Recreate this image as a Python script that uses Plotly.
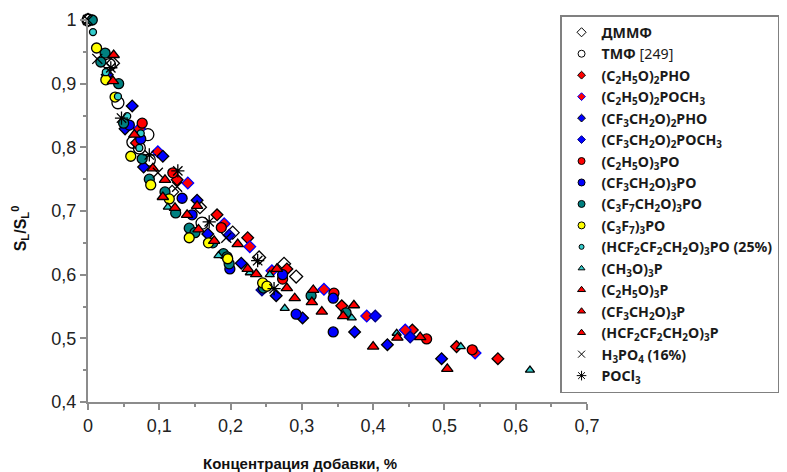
import plotly.graph_objects as go

# --- data: relative burning velocity vs additive concentration ---
dmmf_x = [0.0, 0.035, 0.118, 0.157, 0.203, 0.240, 0.275, 0.292]
dmmf_y = [1.0, 0.932, 0.730, 0.706, 0.666, 0.627, 0.617, 0.597]

tmf_x = [0.0, 0.030, 0.042, 0.063, 0.084, 0.072, 0.086, 0.160]
tmf_y = [1.0, 0.930, 0.870, 0.808, 0.820, 0.799, 0.780, 0.681]

dep_pho_x = [0.068, 0.125, 0.181, 0.224, 0.279, 0.356, 0.455, 0.517, 0.575]
dep_pho_y = [0.807, 0.749, 0.694, 0.658, 0.609, 0.551, 0.513, 0.487, 0.468]

dep_poch3_x = [0.072, 0.098, 0.140, 0.191, 0.227, 0.258, 0.331, 0.391, 0.445, 0.543]
dep_poch3_y = [0.829, 0.793, 0.744, 0.680, 0.644, 0.606, 0.577, 0.535, 0.513, 0.477]

tfe_pho_x = [0.027, 0.062, 0.052, 0.105, 0.078, 0.153, 0.168, 0.215, 0.264, 0.301, 0.374, 0.420, 0.496]
tfe_pho_y = [0.914, 0.865, 0.829, 0.786, 0.769, 0.717, 0.664, 0.618, 0.567, 0.532, 0.510, 0.490, 0.468]

tfe_poch3_x = [0.198, 0.244, 0.403, 0.452]
tfe_poch3_y = [0.662, 0.576, 0.535, 0.502]

tep_x = [0.076, 0.119, 0.187, 0.273, 0.345, 0.475, 0.539]
tep_y = [0.838, 0.760, 0.674, 0.593, 0.571, 0.499, 0.482]

tfep_x = [0.058, 0.074, 0.132, 0.146, 0.199, 0.273, 0.292, 0.344, 0.344]
tfep_y = [0.835, 0.813, 0.720, 0.694, 0.609, 0.600, 0.538, 0.563, 0.510]

hfbp_x = [0.006, 0.024, 0.018, 0.043, 0.050, 0.076, 0.086, 0.108, 0.123, 0.142, 0.150,
          0.175, 0.190, 0.195, 0.198, 0.246, 0.313, 0.362]
hfbp_y = [1.0, 0.948, 0.934, 0.900, 0.838, 0.782, 0.750, 0.730, 0.697, 0.673, 0.666,
          0.650, 0.633, 0.628, 0.617, 0.579, 0.567, 0.540]

pfpp_x = [0.012, 0.025, 0.038, 0.060, 0.088, 0.114, 0.142, 0.169, 0.196, 0.245, 0.251]
pfpp_y = [0.956, 0.906, 0.879, 0.786, 0.741, 0.719, 0.658, 0.650, 0.625, 0.587, 0.582]

tftfpo_x = [0.007, 0.025, 0.042, 0.055, 0.074, 0.072]
tftfpo_y = [0.981, 0.918, 0.880, 0.849, 0.822, 0.799]

tmp_x = [0.112, 0.183, 0.227, 0.255, 0.276, 0.370, 0.433, 0.523, 0.620]
tmp_y = [0.706, 0.630, 0.603, 0.600, 0.547, 0.532, 0.508, 0.487, 0.450]

tept_x = [0.036, 0.065, 0.108, 0.139, 0.177, 0.224, 0.279, 0.316, 0.373, 0.434, 0.504]
tept_y = [0.945, 0.820, 0.749, 0.694, 0.653, 0.609, 0.579, 0.576, 0.552, 0.501, 0.452]

tfept_x = [0.035, 0.091, 0.122, 0.155, 0.210, 0.265, 0.290, 0.314, 0.358, 0.466]
tfept_y = [0.904, 0.767, 0.705, 0.671, 0.648, 0.609, 0.563, 0.557, 0.535, 0.502]

tftfp_x = [0.105, 0.153, 0.236, 0.328, 0.400]
tftfp_y = [0.722, 0.708, 0.601, 0.542, 0.487]

h3po4_x = [0.0, 0.013, 0.098, 0.125, 0.194]
h3po4_y = [1.0, 0.939, 0.760, 0.738, 0.658]

pocl3_x = [0.032, 0.047, 0.086, 0.126, 0.170, 0.238, 0.261]
pocl3_y = [0.925, 0.846, 0.788, 0.763, 0.683, 0.622, 0.578]

# --- styling of each series: name, data, symbol, size on plot, size in legend, fill, edge ---
RED, BLUE, TEAL, YELLOW, CYAN = "#ff0000", "#0000ff", "#008080", "#ffff00", "#33cccc"
LW = 1.3

series = [
    ("ДММФ", dmmf_x, dmmf_y, "diamond", 10, 7, "white", "black", LW),
    ("ТМФ <span style='font-weight:normal'>[249]</span>", tmf_x, tmf_y, "circle", 12, 7,
     "rgba(255,255,255,0)", "black", LW),
    ("(C<sub>2</sub>H<sub>5</sub>O)<sub>2</sub>PHO", dep_pho_x, dep_pho_y, "diamond", 9, 6, RED, "black", LW),
    ("(C<sub>2</sub>H<sub>5</sub>O)<sub>2</sub>POCH<sub>3</sub>", dep_poch3_x, dep_poch3_y, "diamond", 9, 6, RED, BLUE, LW),
    ("(CF<sub>3</sub>CH<sub>2</sub>O)<sub>2</sub>PHO", tfe_pho_x, tfe_pho_y, "diamond", 9, 6, BLUE, "black", LW),
    ("(CF<sub>3</sub>CH<sub>2</sub>O)<sub>2</sub>POCH<sub>3</sub>", tfe_poch3_x, tfe_poch3_y, "diamond", 9, 6, BLUE, "#000080", LW),
    ("(C<sub>2</sub>H<sub>5</sub>O)<sub>3</sub>PO", tep_x, tep_y, "circle", 10, 7, RED, "black", LW),
    ("(CF<sub>3</sub>CH<sub>2</sub>O)<sub>3</sub>PO", tfep_x, tfep_y, "circle", 10, 7, BLUE, "black", LW),
    ("(C<sub>3</sub>F<sub>7</sub>CH<sub>2</sub>O)<sub>3</sub>PO", hfbp_x, hfbp_y, "circle", 10, 7, TEAL, "black", LW),
    ("(C<sub>3</sub>F<sub>7</sub>)<sub>3</sub>PO", pfpp_x, pfpp_y, "circle", 10, 7, YELLOW, "black", LW),
    ("(HCF<sub>2</sub>CF<sub>2</sub>CH<sub>2</sub>O)<sub>3</sub>PO (25%)", tftfpo_x, tftfpo_y, "circle", 7, 5, CYAN, "black", LW),
    ("(CH<sub>3</sub>O)<sub>3</sub>P", tmp_x, tmp_y, "triangle-up", 8, 6, CYAN, "black", LW),
    ("(C<sub>2</sub>H<sub>5</sub>O)<sub>3</sub>P", tept_x, tept_y, "triangle-up", 10, 7, RED, "black", LW),
    ("(CF<sub>3</sub>CH<sub>2</sub>O)<sub>3</sub>P", tfept_x, tfept_y, "triangle-up", 10, 7, RED, "black", LW),
    ("(HCF<sub>2</sub>CF<sub>2</sub>CH<sub>2</sub>O)<sub>3</sub>P", tftfp_x, tftfp_y, "triangle-up", 10, 7, RED, "black", LW),
    ("H<sub>3</sub>PO<sub>4</sub> (16%)", h3po4_x, h3po4_y, "x-thin-open", 10, 7, "black", "black", LW),
    ("POCl<sub>3</sub>", pocl3_x, pocl3_y, "asterisk-open", 11, 8, "black", "black", LW),
]

fig = go.Figure()

for i, (name, xs, ys, sym, size, lsize, fill, edge, lw) in enumerate(series):
    group = f"s{i}"
    # the measured points
    fig.add_trace(go.Scatter(
        x=xs, y=ys, mode="markers", name=name, cliponaxis=False,
        legendgroup=group, showlegend=False,
        marker=dict(symbol=sym, size=size, color=fill, line=dict(color=edge, width=lw)),
    ))
    # legend key drawn with a smaller symbol
    fig.add_trace(go.Scatter(
        x=[None], y=[None], mode="markers", name=name,
        legendgroup=group, showlegend=True,
        marker=dict(symbol=sym, size=lsize, color=fill, line=dict(color=edge, width=1)),
    ))

AXIS_GREY = "#8c8c8c"
SANS = "Liberation Sans, Arial, sans-serif"
tick_font = dict(family=SANS, size=18, color="#222222")

# plot area spans 88..587 px horizontally and 20..402 px vertically
fig.update_layout(
    width=787, height=472,
    margin=dict(l=88, r=200, t=20, b=70, autoexpand=False),
    paper_bgcolor="white", plot_bgcolor="white",
    separators=", ",
    font=dict(family=SANS, color="#111111"),
    showlegend=True,
    legend=dict(
        x=0.946, y=1.013, xanchor="left", yanchor="top",
        maxheight=460, tracegroupgap=0,
        bgcolor="white", bordercolor="#808080", borderwidth=1.5,
        font=dict(family="Noto Sans, sans-serif", size=14.2, color="#1a1a1a", weight="bold"),
        itemclick=False, itemdoubleclick=False,
    ),
    xaxis=dict(
        range=[0, 0.7], dtick=0.1, tick0=0,
        showgrid=False, zeroline=False,
        showline=True, linecolor=AXIS_GREY, linewidth=2,
        ticks="outside", ticklen=6, tickwidth=1.5, tickcolor=AXIS_GREY,
        minor=dict(dtick=0.05, ticks="outside", ticklen=3, tickwidth=1.5, tickcolor=AXIS_GREY),
        tickfont=tick_font,
    ),
    yaxis=dict(
        range=[0.4, 1.0], dtick=0.1, tick0=0.4,
        showgrid=False, zeroline=False,
        showline=True, linecolor=AXIS_GREY, linewidth=2,
        ticks="outside", ticklen=6, tickwidth=1.5, tickcolor=AXIS_GREY,
        minor=dict(dtick=0.05, ticks="outside", ticklen=3, tickwidth=1.5, tickcolor=AXIS_GREY),
        tickfont=tick_font,
    ),
    annotations=[
        dict(text="<b>Концентрация добавки, %</b>", xref="paper", yref="paper",
             x=0.425, y=-0.16, xanchor="center", yanchor="middle", showarrow=False,
             font=dict(family=SANS, size=15, color="#111111")),
        dict(text="<b>S<sub>L</sub>/S<sub>L</sub><sup>0</sup></b>", xref="paper", yref="paper",
             x=-0.136, y=0.455, xanchor="center", yanchor="middle", showarrow=False,
             textangle=-90, font=dict(family=SANS, size=16, color="#111111")),
    ],
)

fig.write_html("out.html")
